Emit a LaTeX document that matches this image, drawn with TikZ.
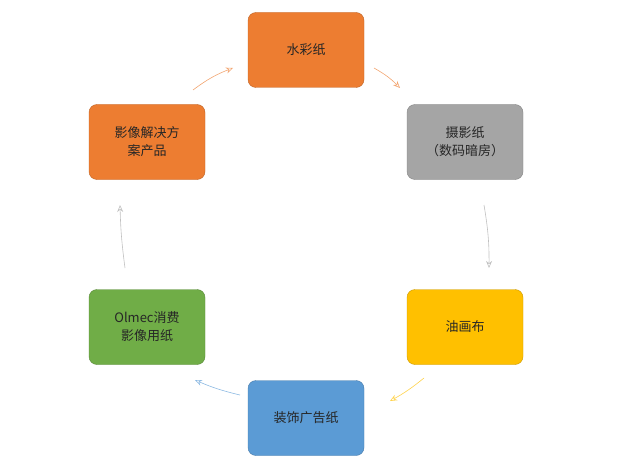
\documentclass[tikz,border=0pt]{standalone}
\usepackage{fontspec}
\setmainfont{Noto Sans CJK SC}
\usetikzlibrary{arrows.meta}
\definecolor{c1}{HTML}{ED7D31}
\definecolor{c2}{HTML}{A5A5A5}
\definecolor{c3}{HTML}{FFC000}
\definecolor{c4}{HTML}{5B9BD5}
\definecolor{c5}{HTML}{70AD47}
\tikzset{box/.style={draw=#1!80!black,fill=#1,rounded corners=8pt,minimum width=116pt,minimum height=75pt,align=center,font=\fontsize{13}{18}\selectfont,text=black!85},
arr/.style={draw=#1!70!white,-{Stealth[length=7pt,width=6pt,open]},line width=0.6pt}}
\begin{document}
\begin{tikzpicture}[x=1pt,y=-1pt]
\useasboundingbox (0,0) rectangle (637,468);
\node[box=c1] (a) at (306,50) {水彩纸};
\node[box=c2] (b) at (465,142) {摄影纸\\（数码暗房）};
\node[box=c3] (c) at (465,327) {油画布};
\node[box=c4] (d) at (306,418) {装饰广告纸};
\node[box=c5] (e) at (147,327) {Olmec消费\\影像用纸};
\node[box=c1] (f) at (147,142) {影像解决方\\案产品};
\coordinate (a1) at (374,68); \coordinate (a2) at (400,88);
\coordinate (b1) at (484,205); \coordinate (b2) at (489,268);
\coordinate (c1p) at (424,378); \coordinate (c2p) at (390,401);
\coordinate (d1) at (240,395); \coordinate (d2) at (195,380);
\coordinate (e1) at (125,268); \coordinate (e2) at (120,205);
\coordinate (f1) at (193,90); \coordinate (f2) at (233,68);
\draw[arr=c1] (a1) to[bend left=8] (a2);
\draw[arr=c2] (b1) to[bend left=5] (b2);
\draw[arr=c3] (c1p) to[bend left=5] (c2p);
\draw[arr=c4] (d1) to[bend left=5] (d2);
\draw[arr=c2] (e1) to[bend left=3] (e2);
\draw[arr=c1] (f1) to[bend left=8] (f2);
\end{tikzpicture}
\end{document}
